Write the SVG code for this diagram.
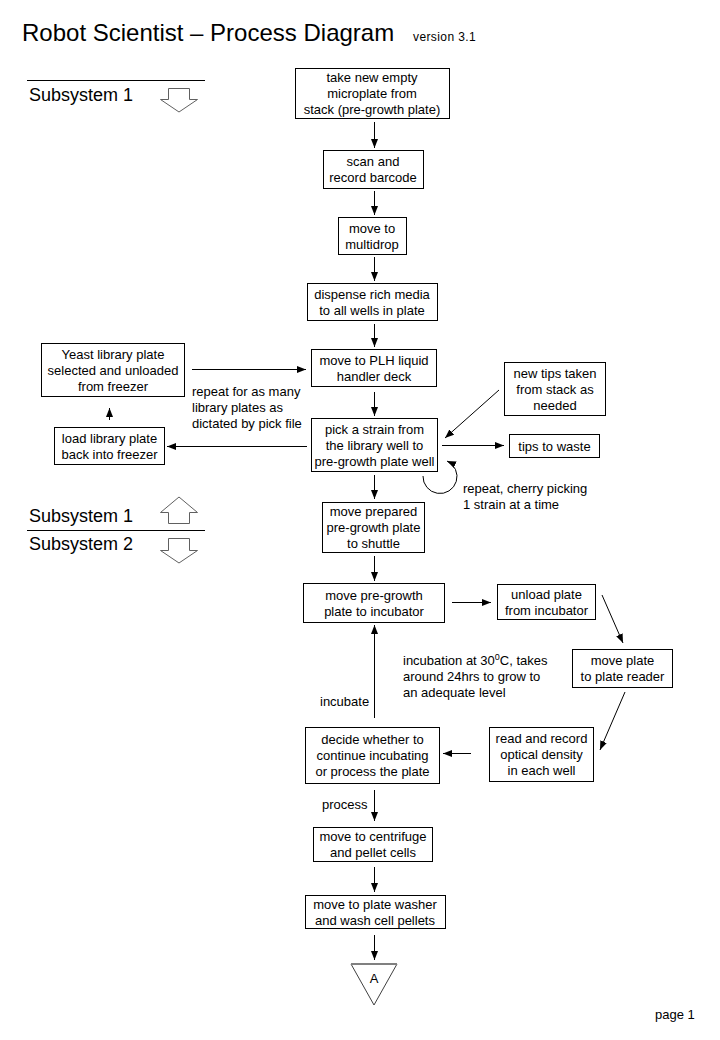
<svg xmlns="http://www.w3.org/2000/svg" width="720" height="1040" viewBox="0 0 720 1040">
<defs>
<style>
text{font-family:"Liberation Sans",Arial,sans-serif;fill:#000}
.t{font-size:13px;text-anchor:middle}
.l{font-size:13px}
.box{fill:#fff;stroke:#000;stroke-width:1}
.c{fill:none;stroke:#000;stroke-width:1}
.blk{fill:#fff;stroke:#606060;stroke-width:1}
</style>
<marker id="ah" viewBox="0 0 9 7" refX="9" refY="3.5" markerWidth="9" markerHeight="7" markerUnits="userSpaceOnUse" orient="auto">
<path d="M0,0 L9,3.5 L0,7 z" fill="#000"/>
</marker>
</defs>
<rect width="720" height="1040" fill="#fff"/>

<g id="header">
<text x="22" y="41" style="font-size:24px">Robot Scientist – Process Diagram</text>
<text x="413" y="41" style="font-size:12px;letter-spacing:0.4px">version 3.1</text>
<text x="655" y="1019" style="font-size:13px">page 1</text>
</g>

<g id="subsystems">
<line x1="27" y1="80.5" x2="205" y2="80.5" stroke="#000"/>
<text x="29" y="101" style="font-size:18px">Subsystem 1</text>
<polygon class="blk" points="168.5,88.5 189.5,88.5 189.5,99.5 197.5,99.5 179,112 160.5,99.5 168.5,99.5"/>
<text x="29" y="522" style="font-size:18px">Subsystem 1</text>
<polygon class="blk" points="179,497 197.5,512.5 189.5,512.5 189.5,523.5 168.5,523.5 168.5,512.5 160.5,512.5"/>
<line x1="27" y1="530.5" x2="205" y2="530.5" stroke="#000"/>
<text x="29" y="550" style="font-size:18px">Subsystem 2</text>
<polygon class="blk" points="168.5,538.5 189.5,538.5 189.5,550.5 197.5,550.5 179,563 160.5,550.5 168.5,550.5"/>
</g>

<g id="connectors">
<line class="c" x1="374.5" y1="122" x2="374.5" y2="148" marker-end="url(#ah)"/>
<line class="c" x1="374.5" y1="191" x2="374.5" y2="215" marker-end="url(#ah)"/>
<line class="c" x1="374.5" y1="257" x2="374.5" y2="281" marker-end="url(#ah)"/>
<line class="c" x1="374.5" y1="324" x2="374.5" y2="347" marker-end="url(#ah)"/>
<line class="c" x1="374.5" y1="392" x2="374.5" y2="416" marker-end="url(#ah)"/>
<line class="c" x1="374.5" y1="475" x2="374.5" y2="499" marker-end="url(#ah)"/>
<line class="c" x1="374.5" y1="556" x2="374.5" y2="581" marker-end="url(#ah)"/>
<line class="c" x1="452" y1="602.5" x2="491" y2="602.5" stroke="#404040" marker-end="url(#ah)"/>
<line class="c" x1="602" y1="595" x2="623" y2="643" marker-end="url(#ah)"/>
<line class="c" x1="625" y1="692" x2="600" y2="750" marker-end="url(#ah)"/>
<line class="c" x1="471" y1="753.5" x2="443" y2="753.5" marker-end="url(#ah)"/>
<line class="c" x1="374.5" y1="718" x2="374.5" y2="625" marker-end="url(#ah)"/>
<line class="c" x1="374.5" y1="790" x2="374.5" y2="821" marker-end="url(#ah)"/>
<line class="c" x1="374.5" y1="867" x2="374.5" y2="892" marker-end="url(#ah)"/>
<line class="c" x1="374.5" y1="935" x2="374.5" y2="960" marker-end="url(#ah)"/>
<line class="c" x1="192" y1="369.5" x2="306" y2="369.5" marker-end="url(#ah)"/>
<line class="c" x1="307" y1="446.5" x2="167" y2="446.5" marker-end="url(#ah)"/>
<line class="c" x1="109.5" y1="420" x2="109.5" y2="408" marker-end="url(#ah)"/>
<line class="c" x1="499" y1="390" x2="445" y2="438" marker-end="url(#ah)"/>
<line class="c" x1="442" y1="445.5" x2="504" y2="445.5" marker-end="url(#ah)"/>
<path class="c" d="M423,476 A17,17 0 1 0 447,461" marker-end="url(#ah)"/>
<text class="l" x="192" y="396">repeat for as many</text>
<text class="l" x="192" y="412">library plates as</text>
<text class="l" x="192" y="428">dictated by pick file</text>
<text class="l" x="463" y="493">repeat, cherry picking</text>
<text class="l" x="463" y="509">1 strain at a time</text>
<text class="l" x="403" y="665">incubation at 30<tspan dy="-5" style="font-size:9px">0</tspan><tspan dy="5">C, takes</tspan></text>
<text class="l" x="403" y="681">around 24hrs to grow to</text>
<text class="l" x="403" y="697">an adequate level</text>
<text class="l" x="320" y="706">incubate</text>
<text class="l" x="322" y="809">process</text>
</g>

<g id="n1"><rect class="box" x="295.5" y="68.5" width="154" height="50"/>
<text class="t" x="372" y="82">take new empty</text><text class="t" x="372" y="98">microplate from</text><text class="t" x="372" y="114">stack (pre-growth plate)</text></g>
<g id="n2"><rect class="box" x="323.5" y="150.5" width="100" height="38"/>
<text class="t" x="373" y="166">scan and</text><text class="t" x="373" y="182">record barcode</text></g>
<g id="n3"><rect class="box" x="338.5" y="217.5" width="68" height="37"/>
<text class="t" x="372" y="232.5">move to</text><text class="t" x="372" y="248.5">multidrop</text></g>
<g id="n4"><rect class="box" x="307.5" y="283.5" width="130" height="37"/>
<text class="t" x="372" y="298.5">dispense rich media</text><text class="t" x="372" y="314.5">to all wells in plate</text></g>
<g id="n5"><rect class="box" x="311.5" y="349.5" width="125" height="37"/>
<text class="t" x="374" y="364.5">move to PLH liquid</text><text class="t" x="374" y="380.5">handler deck</text></g>
<g id="n6"><rect class="box" x="41.5" y="343.5" width="143" height="53"/>
<text class="t" x="113" y="358.5">Yeast library plate</text><text class="t" x="113" y="374.5">selected and unloaded</text><text class="t" x="113" y="390.5">from freezer</text></g>
<g id="n7"><rect class="box" x="54.5" y="427.5" width="110" height="37"/>
<text class="t" x="109.5" y="442.5">load library plate</text><text class="t" x="109.5" y="458.5">back into freezer</text></g>
<g id="n8"><rect class="box" x="311.5" y="418.5" width="126" height="53"/>
<text class="t" x="374.5" y="433.5">pick a strain from</text><text class="t" x="374.5" y="449.5">the library well to</text><text class="t" x="374.5" y="465.5">pre-growth plate well</text></g>
<g id="n9"><rect class="box" x="504.5" y="362.5" width="101" height="53"/>
<text class="t" x="555" y="377.5">new tips taken</text><text class="t" x="555" y="393.5">from stack as</text><text class="t" x="555" y="409.5">needed</text></g>
<g id="n10"><rect class="box" x="509.5" y="434.5" width="90" height="23"/>
<text class="t" x="554.5" y="450.5">tips to waste</text></g>
<g id="n11"><rect class="box" x="322.5" y="502.5" width="102" height="50"/>
<text class="t" x="373.5" y="516">move prepared</text><text class="t" x="373.5" y="532">pre-growth plate</text><text class="t" x="373.5" y="548">to shuttle</text></g>
<g id="n12"><rect class="box" x="303.5" y="583.5" width="141" height="39"/>
<text class="t" x="374" y="599.5">move pre-growth</text><text class="t" x="374" y="615.5">plate to incubator</text></g>
<g id="n13"><rect class="box" x="497.5" y="584.5" width="98" height="35"/>
<text class="t" x="546.5" y="598.5">unload plate</text><text class="t" x="546.5" y="614.5">from incubator</text></g>
<g id="n14"><rect class="box" x="572.5" y="649.5" width="100" height="38"/>
<text class="t" x="622.5" y="665">move plate</text><text class="t" x="622.5" y="681">to plate reader</text></g>
<g id="n15"><rect class="box" x="489.5" y="727.5" width="104" height="54"/>
<text class="t" x="541.5" y="743">read and record</text><text class="t" x="541.5" y="759">optical density</text><text class="t" x="541.5" y="775">in each well</text></g>
<g id="n16"><rect class="box" x="305.5" y="727.5" width="134" height="56"/>
<text class="t" x="372.5" y="744">decide whether to</text><text class="t" x="372.5" y="760">continue incubating</text><text class="t" x="372.5" y="776">or process the plate</text></g>
<g id="n17"><rect class="box" x="313.5" y="827.5" width="119" height="34"/>
<text class="t" x="373" y="841">move to centrifuge</text><text class="t" x="373" y="857">and pellet cells</text></g>
<g id="n18"><rect class="box" x="305.5" y="895.5" width="140" height="33"/>
<text class="t" x="375" y="908.5">move to plate washer</text><text class="t" x="375" y="924.5">and wash cell pellets</text></g>
<g id="n19"><polygon points="351,964 397,964 374,1005" fill="#fff" stroke="#404040" stroke-width="1"/>
<line x1="351" y1="964" x2="397" y2="964" stroke="#808080" stroke-width="2"/>
<text class="t" x="374" y="983">A</text></g>
</svg>
